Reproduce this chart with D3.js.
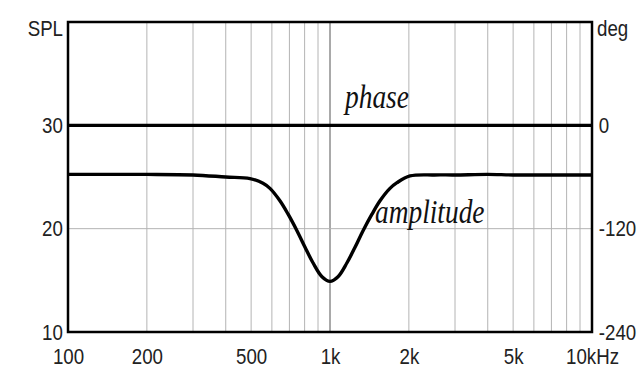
<!DOCTYPE html>
<html>
<head>
<meta charset="utf-8">
<script src="https://cdn.jsdelivr.net/npm/d3@7"></script>
<style>
body { margin: 0; background: #fff; }
.tick text { font-family: "Liberation Sans", Arial, sans-serif; fill: #222; }
.grid line { stroke: #b4b4b4; stroke-width: 1; }
.curve { fill: none; stroke: #000; stroke-width: 3.4; stroke-linejoin: round; }
.lbl { font-family: "Liberation Serif", "Times New Roman", serif; font-style: italic; fill: #111; }
</style>
</head>
<body>
<div id="chart"></div>
<script>
let w = 642
let h = 390
let m = { left: 68, right: 50, top: 22, bottom: 58 }

// amplitude response (Hz, dB SPL)
let freqs = [100, 150, 200, 300, 400, 495, 555, 590, 644, 692, 748, 803, 861, 932, 1000,
	1073, 1161, 1246, 1337, 1446, 1552, 1694, 1802, 2020, 2500, 3000, 4000, 5000, 7000, 10000]
let spl = [25.25, 25.25, 25.25, 25.2, 25.0, 24.85, 24.4, 23.9, 22.7, 21.4, 19.8, 18.2, 16.7, 15.35, 14.9,
	15.35, 16.7, 18.2, 19.8, 21.4, 22.7, 23.9, 24.45, 25.1, 25.2, 25.2, 25.25, 25.2, 25.2, 25.2]

// phase (Hz, degrees)
let phaseFreqs = [100, 1000, 10000]
let phaseDeg = [0, 0, 0]

let xTicks = [100, 200, 500, 1000, 2000, 5000, 10000]
let xLabels = ["100", "200", "500", "1k", "2k", "5k", "10kHz"]
let xGrid = [200, 300, 400, 500, 600, 700, 800, 900, 1000, 2000, 3000, 4000, 5000, 6000, 7000, 8000, 9000]
let splTicks = [10, 20, 30]
let degTicks = [-240, -120, 0]

let svg = d3.select("#chart")
	.append("svg")
	.attr("width", w)
	.attr("height", h)

let x = d3.scaleLog()
	.domain([100, 10000])
	.range([m.left, w - m.right])

let y = d3.scaleLinear()
	.domain([10, 40])
	.range([h - m.bottom, m.top])

let yDeg = d3.scaleLinear()
	.domain([-240, 120])
	.range([h - m.bottom, m.top])

// grid lines
let grid = svg.append("g").attr("class", "grid")
grid.selectAll(".vx")
	.data(xGrid)
	.join("line")
	.attr("x1", d => x(d))
	.attr("x2", d => x(d))
	.attr("y1", m.top)
	.attr("y2", h - m.bottom)
	.style("stroke", d => d == 1000 ? "#555" : null)

grid.selectAll(".hy")
	.data([20, 30])
	.join("line")
	.attr("x1", m.left)
	.attr("x2", w - m.right)
	.attr("y1", d => y(d))
	.attr("y2", d => y(d))

// axes
let xAxis = d3.axisBottom(x)
	.tickValues(xTicks)
	.tickFormat((d, i) => xLabels[i])
	.tickSize(0)
	.tickPadding(16)

let yAxis = d3.axisLeft(y)
	.tickValues(splTicks)
	.tickFormat(d => String(d))
	.tickSize(0)
	.tickPadding(6)

let degAxis = d3.axisRight(yDeg)
	.tickValues(degTicks)
	.tickFormat(d => String(d))
	.tickSize(0)
	.tickPadding(8)

let gx = svg.append("g")
	.attr("transform", "translate(0," + (h - m.bottom) + ")")
	.call(xAxis)
let gy = svg.append("g")
	.attr("transform", "translate(" + m.left + ",0)")
	.call(yAxis)
let gd = svg.append("g")
	.attr("transform", "translate(" + (w - m.right) + ",0)")
	.call(degAxis)

svg.selectAll(".domain").remove()
svg.selectAll(".tick text")
	.style("font-size", "22px")
	.attr("transform", "scale(0.85,1)")

gx.selectAll(".tick text").attr("dy", "0.71em")

// units
svg.append("text")
	.attr("class", "unit")
	.attr("text-anchor", "end")
	.attr("transform", "translate(63,36) scale(0.85,1)")
	.text("SPL")
svg.append("text")
	.attr("class", "unit")
	.attr("transform", "translate(597,36) scale(0.85,1)")
	.text("deg")
svg.selectAll(".unit")
	.style("font-family", "'Liberation Sans', Arial, sans-serif")
	.style("font-size", "22px")
	.style("fill", "#222")

// curves
let line = d3.line()
	.x(d => x(d[0]))
	.y(d => y(d[1]))
	.curve(d3.curveCatmullRom.alpha(0.5))

let phaseLine = d3.line()
	.x(d => x(d[0]))
	.y(d => yDeg(d[1]))

svg.append("path")
	.datum(d3.zip(phaseFreqs, phaseDeg))
	.attr("class", "curve")
	.attr("d", phaseLine)

svg.append("path")
	.datum(d3.zip(freqs, spl))
	.attr("class", "curve")
	.attr("d", line)

// frame
svg.append("rect")
	.attr("x", m.left)
	.attr("y", m.top)
	.attr("width", w - m.left - m.right)
	.attr("height", h - m.top - m.bottom)
	.attr("fill", "none")
	.attr("stroke", "#000")
	.attr("stroke-width", 2.5)

// labels
svg.append("text")
	.attr("class", "lbl")
	.attr("transform", "translate(345,108) scale(0.83,1)")
	.style("font-size", "33px")
	.text("phase")
svg.append("text")
	.attr("class", "lbl")
	.attr("transform", "translate(375,223) scale(0.83,1)")
	.style("font-size", "33px")
	.text("amplitude")
</script>
</body>
</html>
